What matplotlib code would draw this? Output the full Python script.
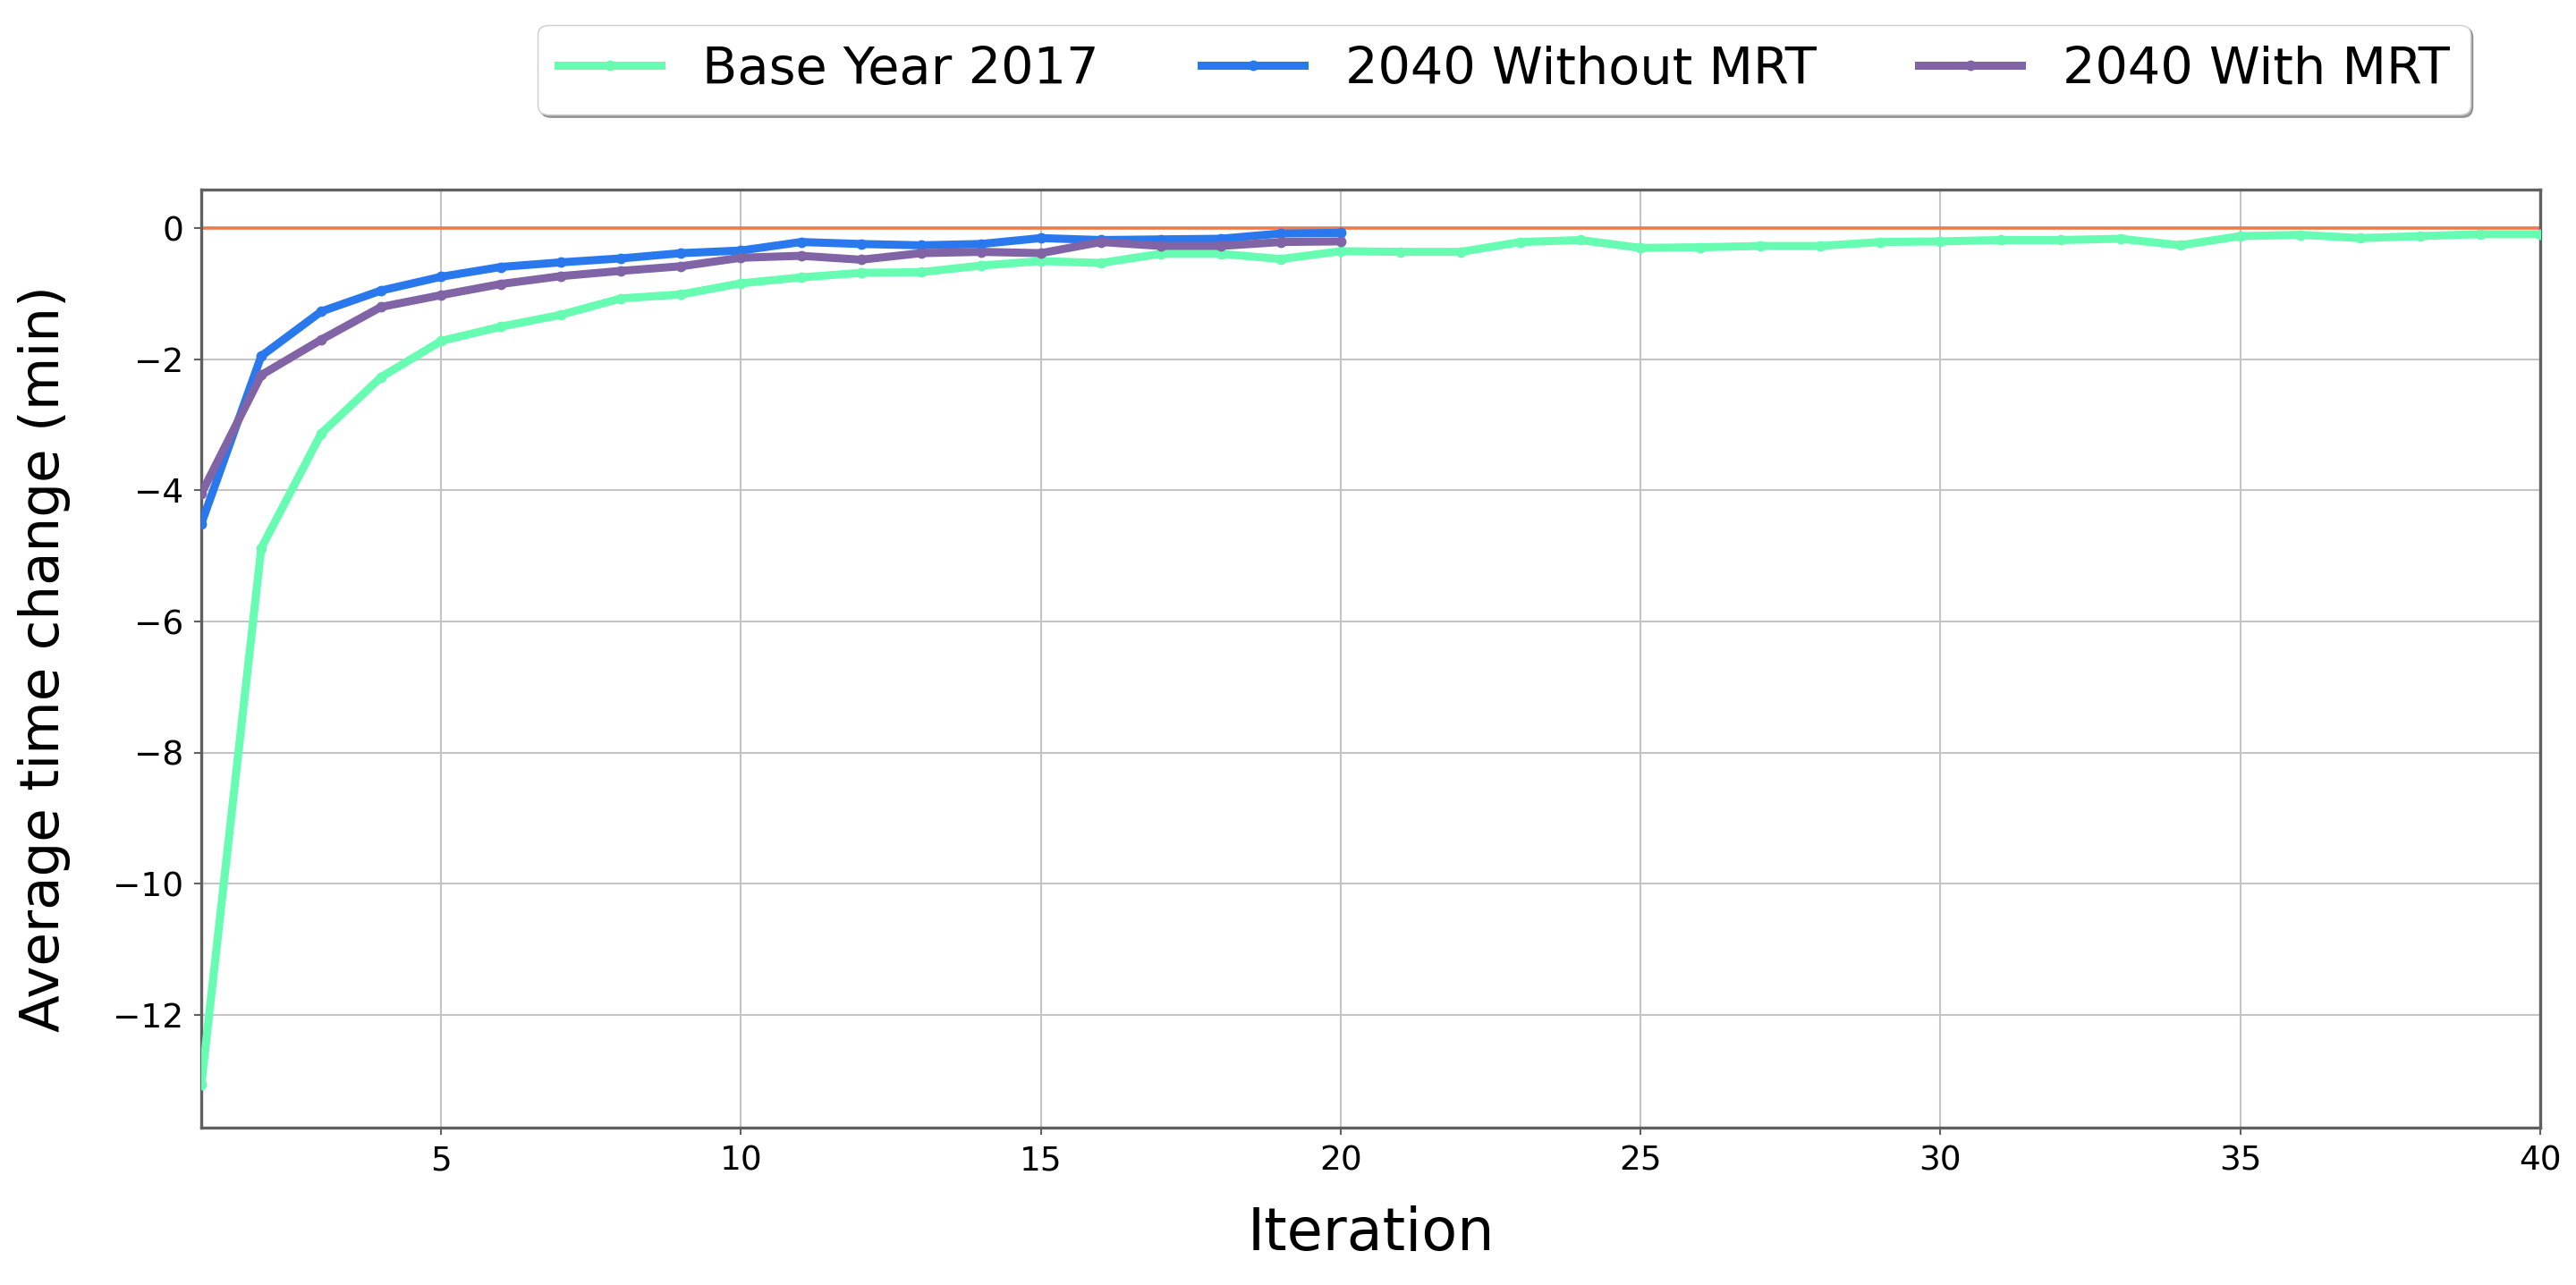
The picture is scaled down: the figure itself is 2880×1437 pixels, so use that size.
import matplotlib
matplotlib.use("Agg")
import matplotlib.pyplot as plt
import numpy as np

# ---- data ----
iter_base = list(range(1, 41))
base_2017 = [-13.07, -4.88, -3.13, -2.27, -1.72, -1.50, -1.32, -1.07, -1.01, -0.84,
             -0.75, -0.68, -0.67, -0.57, -0.50, -0.53, -0.39, -0.39, -0.47, -0.35,
             -0.36, -0.36, -0.21, -0.18, -0.30, -0.29, -0.27, -0.27, -0.21, -0.20,
             -0.18, -0.18, -0.16, -0.26, -0.12, -0.10, -0.15, -0.12, -0.09, -0.09]

iter_2040 = list(range(1, 21))
without_mrt = [-4.51, -1.95, -1.27, -0.95, -0.74, -0.59, -0.52, -0.46, -0.38, -0.34,
               -0.21, -0.24, -0.26, -0.24, -0.15, -0.18, -0.17, -0.16, -0.08, -0.07]
with_mrt = [-4.05, -2.24, -1.70, -1.20, -1.02, -0.85, -0.73, -0.65, -0.58, -0.45,
            -0.42, -0.48, -0.38, -0.36, -0.38, -0.21, -0.27, -0.27, -0.21, -0.20]

labels = ["Base Year 2017", "2040 Without MRT", "2040 With MRT"]
x_ticks = [5, 10, 15, 20, 25, 30, 35, 40]
y_ticks = [0, -2, -4, -6, -8, -10, -12]

# ---- figure ----
fig = plt.figure(figsize=(28.8, 14.37), dpi=100)
ax = fig.add_axes([225 / 2880, 1 - 1261 / 1437, (2840 - 225) / 2880, (1261 - 212) / 1437])

ax.grid(True, color="#c4c4c4", linewidth=1.5, zorder=0)
ax.set_axisbelow(True)

lw = 6.5
ms = 7.5
ax.plot(iter_base, base_2017, color="#66FDB2", lw=lw, marker="o", ms=ms, label=labels[0], zorder=3)
ax.plot(iter_2040, without_mrt, color="#2A78EE", lw=lw, marker="o", ms=ms, label=labels[1], zorder=3)
ax.plot(iter_2040, with_mrt, color="#8064A6", lw=lw, marker="o", ms=ms, label=labels[2], zorder=3)
ax.axhline(0, color="#EC7A50", lw=2.6, zorder=2)

ax.set_xlim(1, 40)
ax.set_ylim(-13.72, 0.59)
ax.set_xticks(x_ticks)
ax.set_yticks(y_ticks)
ax.tick_params(axis="both", labelsize=27, length=6, width=1.5, color="#606060", pad=8)

for sp in ax.spines.values():
    sp.set_color("#606060")
    sp.set_linewidth(2.4)

ax.set_xlabel("Iteration", fontsize=47)
ax.xaxis.set_label_coords(0.5, -0.083)
ax.set_ylabel("Average time change (min)", fontsize=44)
ax.yaxis.set_label_coords(-0.0558, 0.5)

ax.legend(loc="center", bbox_to_anchor=(0.5839, 0.9457), bbox_transform=fig.transFigure,
          ncol=3, fontsize=41.3, shadow=True, fancybox=True, frameon=True)

fig.savefig("out.png", dpi=100)
